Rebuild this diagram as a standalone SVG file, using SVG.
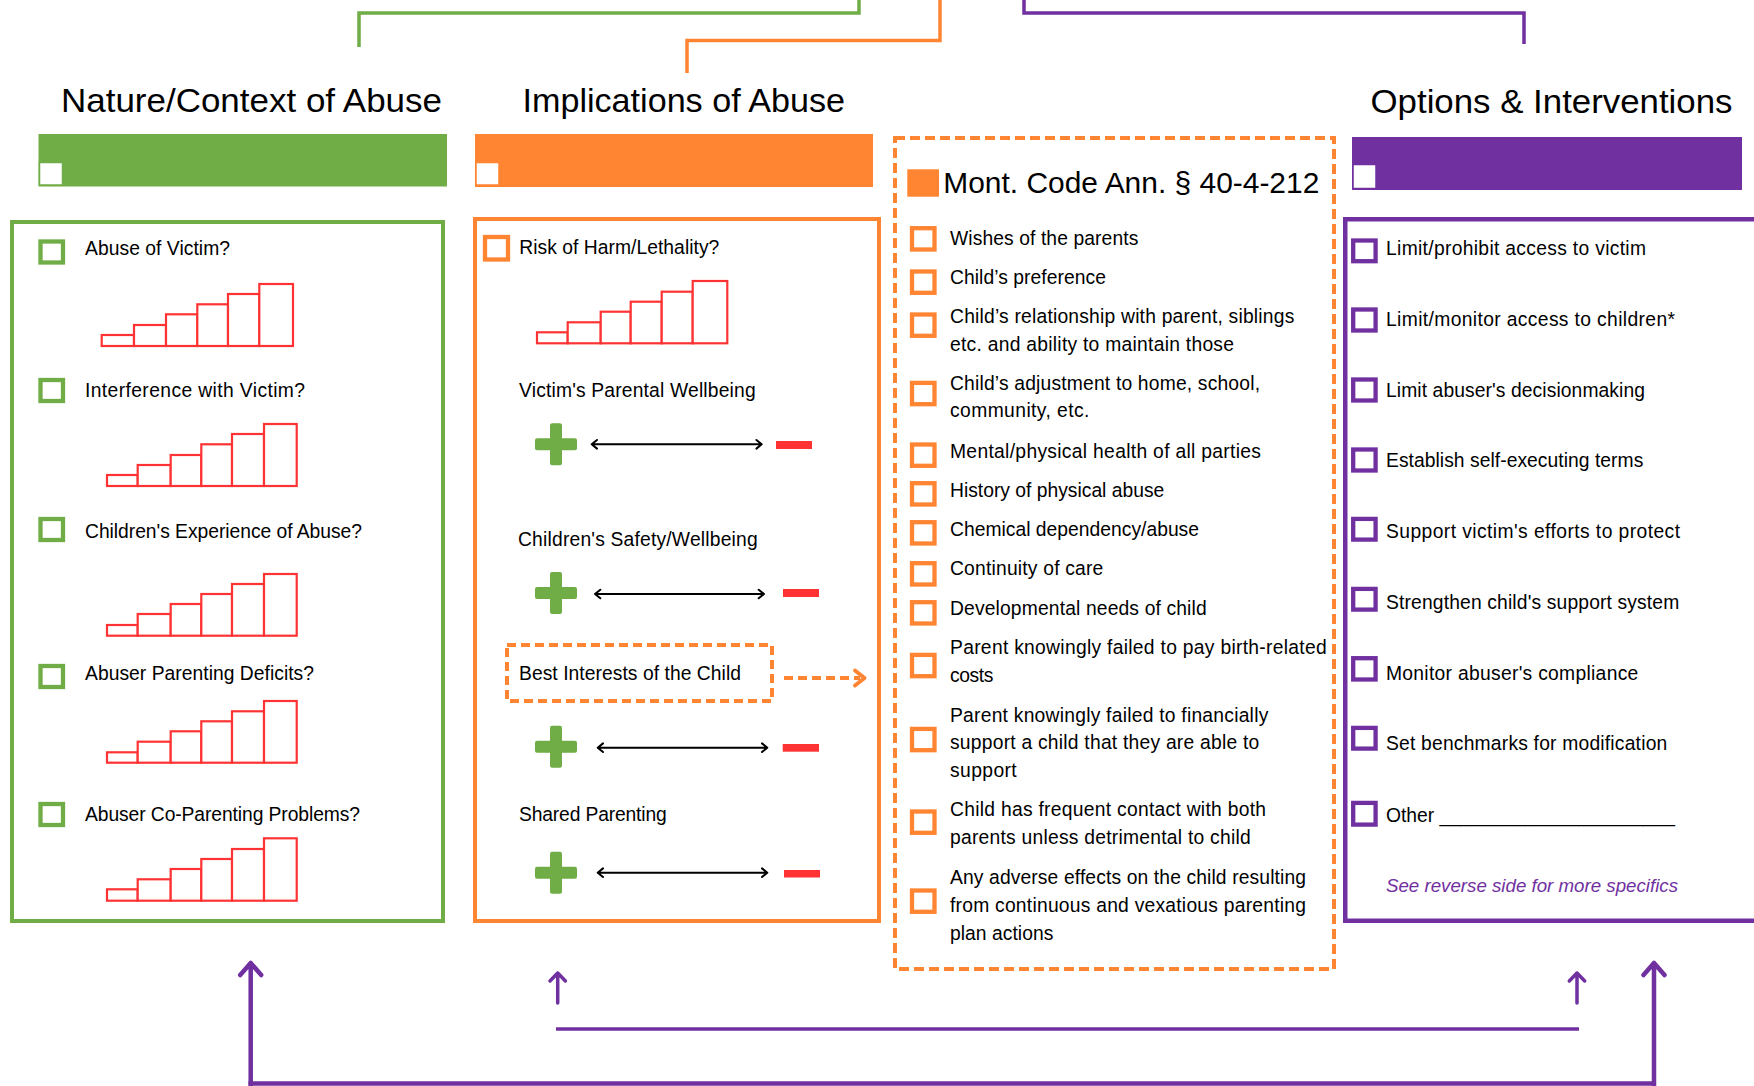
<svg xmlns="http://www.w3.org/2000/svg" width="1754" height="1086" viewBox="0 0 1754 1086">
<style>
.t{font-family:"Liberation Sans",Arial,sans-serif;font-size:19.3px;fill:#000}
.h{font-size:34px}
.m{font-size:29.8px}
.it{font-style:italic;fill:#7030A0;font-size:18.2px}
.cbg{fill:#fff;stroke:#70AD47;stroke-width:4.3}
.cbo{fill:#fff;stroke:#FF8533;stroke-width:4.3}
.cbp{fill:#fff;stroke:#7030A0;stroke-width:4.3}
.bar{fill:#fff;stroke:#FF3333;stroke-width:2.2}
.plus{fill:#70AD47}
.minus{fill:#FF3333}
.dbl{fill:none;stroke:#000;stroke-width:2;stroke-linecap:round;stroke-linejoin:round}
.wsq{fill:#fff;stroke-width:1.5}
</style>

<g id="connectors" fill="none" stroke-linejoin="round">
  <path d="M359,47 V13 H859 V0" stroke="#70AD47" stroke-width="3.5" stroke-linejoin="miter"/>
  <path d="M687,73 V40.5 H940 V0" stroke="#FF8533" stroke-width="3.5" stroke-linejoin="miter"/>
  <path d="M1024,0 V13 H1524 V44" stroke="#7030A0" stroke-width="3.5" stroke-linejoin="miter"/>
  <path d="M250.7,1086 V963 M240.2,975 L250.7,963 L261.2,975" stroke="#7030A0" stroke-width="4.5" stroke-linecap="round"/>
  <path d="M1654,1086 V963 M1643.5,975 L1654,963 L1664.5,975" stroke="#7030A0" stroke-width="4.5" stroke-linecap="round"/>
  <path d="M248.5,1083.5 H1656" stroke="#7030A0" stroke-width="4.5"/>
  <path d="M557.7,1003 V973 M550,981 L557.7,973 L565.4,981" stroke="#7030A0" stroke-width="3.5" stroke-linecap="round"/>
  <path d="M1577,1003 V973 M1569.3,981 L1577,973 L1584.7,981" stroke="#7030A0" stroke-width="3.5" stroke-linecap="round"/>
  <path d="M556,1029 H1579" stroke="#7030A0" stroke-width="3.5"/>
  <path d="M784,678 H860" stroke="#FF8533" stroke-width="4" stroke-dasharray="9 5"/>
  <path d="M855,670.5 L864.5,678 L855,685.5" stroke="#FF8533" stroke-width="4" stroke-linecap="round"/>
</g>

<g id="title-nature">
  <text class="t h" x="61" y="112" textLength="381" lengthAdjust="spacingAndGlyphs">Nature/Context of Abuse</text>
  <rect x="38.5" y="134" width="408.5" height="52.5" fill="#70AD47"/>
  <rect class="wsq" x="39.5" y="162.5" width="23" height="22.5" stroke="#70AD47"/>
</g>

<g id="title-implications">
  <text class="t h" x="522.5" y="112" textLength="322.5" lengthAdjust="spacingAndGlyphs">Implications of Abuse</text>
  <rect x="475" y="134" width="398" height="53" fill="#FF8533"/>
  <rect class="wsq" x="476" y="162.5" width="23" height="22.5" stroke="#FF8533"/>
</g>

<g id="title-options">
  <text class="t h" x="1370.5" y="112.5" textLength="362" lengthAdjust="spacingAndGlyphs">Options &amp; Interventions</text>
  <rect x="1352" y="137" width="390" height="53" fill="#7030A0"/>
  <rect class="wsq" x="1353" y="164.5" width="23" height="24" stroke="#7030A0"/>
</g>

<g id="nature-box">
  <rect x="12" y="222" width="431" height="699" fill="none" stroke="#70AD47" stroke-width="4"/>
  <rect class="cbg" x="40.5" y="241.5" width="22.5" height="21"/>
  <text class="t" x="85" y="255" textLength="145">Abuse of Victim?</text>
  <g>
    <rect class="bar" x="101.7" y="335" width="32.3" height="11"/>
    <rect class="bar" x="134" y="325" width="32" height="21"/>
    <rect class="bar" x="166" y="314.3" width="31.3" height="31.7"/>
    <rect class="bar" x="197.3" y="304.3" width="30.7" height="41.7"/>
    <rect class="bar" x="228" y="294" width="31.3" height="52"/>
    <rect class="bar" x="259.3" y="284" width="33.7" height="62"/>
  </g>
  <rect class="cbg" x="40.5" y="380" width="22.5" height="21"/>
  <text class="t" x="85" y="396.7" textLength="220">Interference with Victim?</text>
  <g>
    <rect class="bar" x="107" y="475" width="30.7" height="11"/>
    <rect class="bar" x="137.7" y="465" width="33" height="21"/>
    <rect class="bar" x="170.7" y="455" width="30.6" height="31"/>
    <rect class="bar" x="201.3" y="444.3" width="30.7" height="41.7"/>
    <rect class="bar" x="232" y="434" width="32" height="52"/>
    <rect class="bar" x="264" y="424" width="32.7" height="62"/>
  </g>
  <rect class="cbg" x="40.5" y="519" width="22.5" height="21"/>
  <text class="t" x="85" y="538.3" textLength="277">Children's Experience of Abuse?</text>
  <g>
    <rect class="bar" x="107" y="625" width="30.7" height="10.7"/>
    <rect class="bar" x="137.7" y="614" width="33" height="21.7"/>
    <rect class="bar" x="170.7" y="604" width="30.6" height="31.7"/>
    <rect class="bar" x="201.3" y="594" width="30.7" height="41.7"/>
    <rect class="bar" x="232" y="584" width="32" height="51.7"/>
    <rect class="bar" x="264" y="574" width="32.7" height="61.7"/>
  </g>
  <rect class="cbg" x="40.5" y="666" width="22.5" height="21"/>
  <text class="t" x="85" y="680" textLength="229">Abuser Parenting Deficits?</text>
  <g>
    <rect class="bar" x="107" y="752.3" width="30.7" height="10.4"/>
    <rect class="bar" x="137.7" y="741.7" width="33" height="21"/>
    <rect class="bar" x="170.7" y="731.3" width="30.6" height="31.4"/>
    <rect class="bar" x="201.3" y="721.3" width="30.7" height="41.4"/>
    <rect class="bar" x="232" y="711.3" width="32" height="51.4"/>
    <rect class="bar" x="264" y="701" width="32.7" height="61.7"/>
  </g>
  <rect class="cbg" x="40.5" y="804" width="22.5" height="21"/>
  <text class="t" x="85" y="820.7" textLength="275">Abuser Co-Parenting Problems?</text>
  <g>
    <rect class="bar" x="107" y="889.3" width="30.7" height="11.4"/>
    <rect class="bar" x="137.7" y="879.3" width="33" height="21.4"/>
    <rect class="bar" x="170.7" y="869" width="30.6" height="31.7"/>
    <rect class="bar" x="201.3" y="859" width="30.7" height="41.7"/>
    <rect class="bar" x="232" y="849" width="32" height="51.7"/>
    <rect class="bar" x="264" y="838.3" width="32.7" height="62.4"/>
  </g>
</g>

<g id="implications-box">
  <rect x="475" y="219" width="404" height="702" fill="none" stroke="#FF8533" stroke-width="4"/>
  <rect class="cbo" x="485" y="237" width="23" height="22.5"/>
  <text class="t" x="519.3" y="254" textLength="200">Risk of Harm/Lethality?</text>
  <g>
    <rect class="bar" x="537" y="332.3" width="30.7" height="11"/>
    <rect class="bar" x="567.7" y="322.3" width="33" height="21"/>
    <rect class="bar" x="600.7" y="311.7" width="30" height="31.6"/>
    <rect class="bar" x="630.7" y="301.7" width="31" height="41.6"/>
    <rect class="bar" x="661.7" y="291.7" width="31" height="51.6"/>
    <rect class="bar" x="692.7" y="281" width="34.6" height="62.3"/>
  </g>
  <text class="t" x="519" y="397" textLength="236.7">Victim's Parental Wellbeing</text>
  <g>
    <rect class="plus" x="535" y="438.3" width="42" height="12" rx="2"/>
    <rect class="plus" x="550" y="423.3" width="12" height="42" rx="2"/>
    <path class="dbl" d="M591.7,444.3 H761.7 M597,440 L591.7,444.3 L597,448.6 M756.4,440 L761.7,444.3 L756.4,448.6"/>
    <rect class="minus" x="776" y="441" width="36" height="8"/>
  </g>
  <text class="t" x="518" y="546" textLength="239.7">Children's Safety/Wellbeing</text>
  <g>
    <rect class="plus" x="535" y="587" width="42" height="12" rx="2"/>
    <rect class="plus" x="550" y="572" width="12" height="42" rx="2"/>
    <path class="dbl" d="M595,594 H764 M600.3,589.7 L595,594 L600.3,598.3 M758.7,589.7 L764,594 L758.7,598.3"/>
    <rect class="minus" x="783" y="589" width="36" height="8"/>
  </g>
  <g id="best-interests">
    <rect x="507" y="645" width="265" height="56" fill="none" stroke="#FF8533" stroke-width="4" stroke-dasharray="9 5"/>
    <text class="t" x="519" y="680" textLength="222">Best Interests of the Child</text>
  </g>
  <g>
    <rect class="plus" x="535" y="740.7" width="42" height="12" rx="2"/>
    <rect class="plus" x="550" y="725.7" width="12" height="42" rx="2"/>
    <path class="dbl" d="M597.7,747.7 H767.3 M603,743.4 L597.7,747.7 L603,752 M762,743.4 L767.3,747.7 L762,752"/>
    <rect class="minus" x="782.7" y="744" width="36.3" height="7.7"/>
  </g>
  <text class="t" x="519" y="820.7" textLength="147.7">Shared Parenting</text>
  <g>
    <rect class="plus" x="535" y="866.7" width="42" height="12" rx="2"/>
    <rect class="plus" x="550" y="851.7" width="12" height="42" rx="2"/>
    <path class="dbl" d="M597.7,872.7 H767.3 M603,868.4 L597.7,872.7 L603,877 M762,868.4 L767.3,872.7 L762,877"/>
    <rect class="minus" x="784" y="870" width="36" height="7.5"/>
  </g>
</g>

<g id="mont-code-box">
  <rect x="895" y="138" width="439" height="831" fill="none" stroke="#FF8533" stroke-width="4" stroke-dasharray="10 5"/>
  <rect x="907.3" y="169.3" width="31.7" height="27.4" fill="#FF8533"/>
  <text class="t m" x="943.3" y="193.3" textLength="376" lengthAdjust="spacingAndGlyphs">Mont. Code Ann. § 40-4-212</text>
  <rect class="cbo" x="912" y="228.2" width="22.5" height="21.3"/>
  <text class="t" x="950" y="245" textLength="188.3">Wishes of the parents</text>
  <rect class="cbo" x="912" y="271.5" width="22.5" height="21.3"/>
  <text class="t" x="950" y="284" textLength="156">Child’s preference</text>
  <rect class="cbo" x="912" y="314.5" width="22.5" height="21.3"/>
  <text class="t" x="950" y="322.7" textLength="344.3">Child’s relationship with parent, siblings</text>
  <text class="t" x="950" y="350.7" textLength="284">etc. and ability to maintain those</text>
  <rect class="cbo" x="912" y="382.9" width="22.5" height="21.3"/>
  <text class="t" x="950" y="390" textLength="310">Child’s adjustment to home, school,</text>
  <text class="t" x="950" y="417.3" textLength="139.3">community, etc.</text>
  <rect class="cbo" x="912" y="444.5" width="22.5" height="21.3"/>
  <text class="t" x="950" y="458.3" textLength="311">Mental/physical health of all parties</text>
  <rect class="cbo" x="912" y="483.2" width="22.5" height="21.3"/>
  <text class="t" x="950" y="496.7" textLength="214.3">History of physical abuse</text>
  <rect class="cbo" x="912" y="522.2" width="22.5" height="21.3"/>
  <text class="t" x="950" y="536" textLength="249">Chemical dependency/abuse</text>
  <rect class="cbo" x="912" y="563.2" width="22.5" height="21.3"/>
  <text class="t" x="950" y="575" textLength="153.3">Continuity of care</text>
  <rect class="cbo" x="912" y="602.2" width="22.5" height="21.3"/>
  <text class="t" x="950" y="615" textLength="256.7">Developmental needs of child</text>
  <rect class="cbo" x="912" y="654.9" width="22.5" height="21.3"/>
  <text class="t" x="950" y="654" textLength="376.7">Parent knowingly failed to pay birth-related</text>
  <text class="t" x="950" y="681.7" textLength="43.3">costs</text>
  <rect class="cbo" x="912" y="728.9" width="22.5" height="21.3"/>
  <text class="t" x="950" y="721.7" textLength="318.3">Parent knowingly failed to financially</text>
  <text class="t" x="950" y="749.3" textLength="309.3">support a child that they are able to</text>
  <text class="t" x="950" y="776.7" textLength="66.7">support</text>
  <rect class="cbo" x="912" y="811.5" width="22.5" height="21.3"/>
  <text class="t" x="950" y="816" textLength="316">Child has frequent contact with both</text>
  <text class="t" x="950" y="844" textLength="300.7">parents unless detrimental to child</text>
  <rect class="cbo" x="912" y="890.5" width="22.5" height="21.3"/>
  <text class="t" x="950" y="884" textLength="356">Any adverse effects on the child resulting</text>
  <text class="t" x="950" y="911.7" textLength="356">from continuous and vexatious parenting</text>
  <text class="t" x="950" y="940" textLength="103.3">plan actions</text>
</g>

<g id="options-box">
  <rect x="1345.25" y="219.25" width="500" height="701.5" fill="none" stroke="#7030A0" stroke-width="4.5"/>
  <rect class="cbp" x="1353.2" y="240.5" width="22.4" height="20.7"/>
  <text class="t" x="1386" y="255" textLength="260">Limit/prohibit access to victim</text>
  <rect class="cbp" x="1353.2" y="309.5" width="22.4" height="21"/>
  <text class="t" x="1386" y="326" textLength="289">Limit/monitor access to children*</text>
  <rect class="cbp" x="1353.2" y="379.5" width="22.4" height="21"/>
  <text class="t" x="1386" y="396.7" textLength="259">Limit abuser's decisionmaking</text>
  <rect class="cbp" x="1353.2" y="449.5" width="22.4" height="21"/>
  <text class="t" x="1386" y="467.3" textLength="257.3">Establish self-executing terms</text>
  <rect class="cbp" x="1353.2" y="518.9" width="22.4" height="20.7"/>
  <text class="t" x="1386" y="537.7" textLength="294">Support victim's efforts to protect</text>
  <rect class="cbp" x="1353.2" y="588.9" width="22.4" height="20.7"/>
  <text class="t" x="1386" y="609.3" textLength="293.3">Strengthen child's support system</text>
  <rect class="cbp" x="1353.2" y="658.2" width="22.4" height="21.3"/>
  <text class="t" x="1386" y="680" textLength="252.3">Monitor abuser's compliance</text>
  <rect class="cbp" x="1353.2" y="727.9" width="22.4" height="20.7"/>
  <text class="t" x="1386" y="750" textLength="281.3">Set benchmarks for modification</text>
  <rect class="cbp" x="1353.2" y="802.9" width="22.4" height="21.7"/>
  <text class="t" x="1386" y="821.7" textLength="289">Other ______________________</text>
  <text class="t it" x="1386" y="891.7" textLength="292" lengthAdjust="spacingAndGlyphs">See reverse side for more specifics</text>
</g>
</svg>
